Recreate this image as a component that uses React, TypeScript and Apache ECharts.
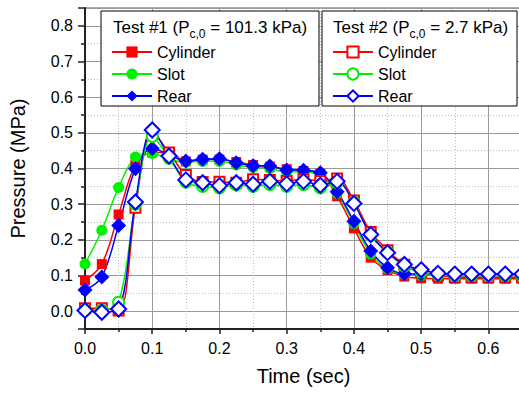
import React, { useEffect, useRef } from "react";
import * as echarts from "echarts";

const time = [0, 0.025, 0.05, 0.075, 0.1, 0.125, 0.15, 0.175, 0.2, 0.225, 0.25, 0.275, 0.3, 0.325, 0.35, 0.375, 0.4, 0.425, 0.45, 0.475, 0.5, 0.525, 0.55, 0.575, 0.6, 0.625, 0.65];

// Test #1 (Pc,0 = 101.3 kPa) — filled symbols
const cylinder1 = [0.086, 0.132, 0.271, 0.41, 0.445, 0.445, 0.42, 0.425, 0.425, 0.418, 0.41, 0.405, 0.398, 0.393, 0.385, 0.322, 0.232, 0.15, 0.115, 0.097, 0.092, 0.091, 0.091, 0.091, 0.091, 0.091, 0.091];
const slot1 = [0.132, 0.227, 0.347, 0.432, 0.442, 0.425, 0.418, 0.42, 0.42, 0.41, 0.403, 0.4, 0.39, 0.39, 0.38, 0.33, 0.245, 0.16, 0.118, 0.103, 0.1, 0.1, 0.1, 0.1, 0.1, 0.1, 0.1];
const rear1 = [0.059, 0.096, 0.24, 0.399, 0.456, 0.439, 0.421, 0.426, 0.427, 0.416, 0.408, 0.407, 0.396, 0.395, 0.388, 0.335, 0.252, 0.169, 0.122, 0.105, 0.104, 0.104, 0.104, 0.104, 0.104, 0.104, 0.104];

// Test #2 (Pc,0 = 2.7 kPa) — open symbols
const cylinder2 = [0.008, 0.008, 0.002, 0.29, 0.5, 0.445, 0.382, 0.362, 0.363, 0.36, 0.37, 0.368, 0.365, 0.37, 0.365, 0.372, 0.31, 0.222, 0.171, 0.13, 0.11, 0.1, 0.095, 0.095, 0.095, 0.095, 0.095];
const slot2 = [0.003, 0.003, 0.025, 0.3, 0.49, 0.43, 0.362, 0.35, 0.346, 0.354, 0.35, 0.355, 0.35, 0.355, 0.346, 0.36, 0.305, 0.212, 0.165, 0.126, 0.11, 0.102, 0.1, 0.1, 0.1, 0.1, 0.1];
const rear2 = [0.002, -0.003, 0.006, 0.306, 0.508, 0.435, 0.368, 0.36, 0.352, 0.36, 0.356, 0.364, 0.357, 0.364, 0.353, 0.364, 0.302, 0.215, 0.164, 0.131, 0.116, 0.106, 0.104, 0.104, 0.104, 0.104, 0.104];

const legendNames = ["Cylinder", "Slot", "Rear"];
const test2Suffix = " (Test #2)";
const colors = ["#ff0000", "#00f000", "#0000ff"];
const filledSymbols = ["rect", "circle", "diamond"];
const filledSizes = [10, 11, 15];
const openSymbols = ["emptyRect", "emptyCircle", "emptyDiamond"];
const openSizes = [10, 11, 15];

const FONT = "Liberation Sans, Arial, Helvetica, sans-serif";

const isTenth = (v: number) => Math.abs(Math.round(v * 10) - v * 10) < 1e-6;

export default function App() {
  const ref = useRef<HTMLDivElement>(null);

  useEffect(() => {
    if (!ref.current) return;
    const chart = echarts.init(ref.current, null, { renderer: "svg" });

    const t1 = [cylinder1, slot1, rear1];
    const t2 = [cylinder2, slot2, rear2];
    const series: any[] = [];
    t1.forEach((vals, i) => {
      series.push({
        name: legendNames[i],
        type: "line",
        data: time.map((t, k) => [t, vals[k]]),
        smooth: 0.35,
        symbol: filledSymbols[i],
        symbolSize: filledSizes[i],
        showAllSymbol: true,
        lineStyle: { color: colors[i], width: 1.5 },
        itemStyle: { color: colors[i], borderWidth: 0 },
        emphasis: { disabled: true },
        z: 2,
      });
    });
    t2.forEach((vals, i) => {
      series.push({
        name: legendNames[i] + test2Suffix,
        type: "line",
        data: time.map((t, k) => [t, vals[k]]),
        smooth: 0.35,
        symbol: openSymbols[i],
        symbolSize: openSizes[i],
        showAllSymbol: true,
        lineStyle: { color: colors[i], width: 1.5 },
        itemStyle: { color: colors[i], borderWidth: 1.3 },
        emphasis: { disabled: true },
        z: 3,
      });
    });

    const legendCommon = {
      orient: "vertical",
      top: 44,
      padding: 0,
      itemWidth: 40,
      itemHeight: 14,
      itemGap: 6,
      selectedMode: false,
      textStyle: { fontFamily: FONT, fontSize: 16, color: "#000", lineHeight: 16, padding: [0, 0, 0, 0] },
      z: 6,
    };

    const titleRich = {
      a: { fontFamily: FONT, fontSize: 17, color: "#000", lineHeight: 26, verticalAlign: "middle" },
      sub: { fontFamily: FONT, fontSize: 12, color: "#000", lineHeight: 10, verticalAlign: "bottom" },
    };

    chart.setOption({
      animation: false,
      backgroundColor: "#fff",
      grid: {
        left: 85,
        top: 8,
        right: -3,
        bottom: 65,
        show: true,
        borderColor: "#555",
        borderWidth: 1,
        backgroundColor: "transparent",
        outerBoundsMode: "none",
      },
      xAxis: {
        type: "value",
        min: 0,
        max: 0.65,
        interval: 0.1,
        name: "Time (sec)",
        nameLocation: "middle",
        nameGap: 37,
        nameTextStyle: { fontFamily: FONT, fontSize: 20, color: "#000" },
        axisLine: { show: true, onZero: false, lineStyle: { color: "#222", width: 2 } },
        axisTick: { show: true, inside: false, length: 5, lineStyle: { color: "#222", width: 1.5 } },
        minorTick: { show: true, splitNumber: 2, length: 3, lineStyle: { color: "#222", width: 1.5 } },
        axisLabel: {
          margin: 11,
          fontFamily: FONT,
          fontSize: 16,
          color: "#000",
          formatter: (v: number) => (isTenth(v) ? v.toFixed(1) : ""),
        },
        splitLine: { show: true, lineStyle: { color: "#999", width: 1 } },
        minorSplitLine: { show: true, lineStyle: { color: "#bbb", width: 1, type: [1, 2] } },
      },
      yAxis: {
        type: "value",
        min: -0.05,
        max: 0.85,
        splitNumber: 9,
        minInterval: 0.1,
        maxInterval: 0.1,
        name: "Pressure (MPa)",
        nameLocation: "middle",
        nameGap: 57,
        nameTextStyle: { fontFamily: FONT, fontSize: 20, color: "#000" },
        axisLine: { show: true, onZero: false, lineStyle: { color: "#222", width: 2 } },
        axisTick: { show: true, inside: false, length: 7, lineStyle: { color: "#222", width: 1.5 } },
        minorTick: { show: true, splitNumber: 2, length: 4, lineStyle: { color: "#222", width: 1.5 } },
        axisLabel: {
          margin: 12,
          fontFamily: FONT,
          fontSize: 16,
          color: "#000",
          formatter: (v: number) => (isTenth(v) && v > -0.01 && v < 0.81 ? v.toFixed(1) : ""),
        },
        splitLine: { show: true, lineStyle: { color: "#999", width: 1 } },
        minorSplitLine: { show: true, lineStyle: { color: "#bbb", width: 1, type: [1, 2] } },
      },
      legend: [
        { ...legendCommon, left: 111, data: legendNames },
        {
          ...legendCommon,
          left: 332,
          data: legendNames.map((n) => n + test2Suffix),
          formatter: (name: string) => name.replace(test2Suffix, ""),
        },
      ],
      graphic: [
        {
          type: "rect",
          shape: { x: 101, y: 11, width: 218, height: 95 },
          style: { fill: "#fff", stroke: "#000", lineWidth: 1 },
          z: 5,
        },
        {
          type: "rect",
          shape: { x: 322, y: 11, width: 195, height: 95 },
          style: { fill: "#fff", stroke: "#000", lineWidth: 1 },
          z: 5,
        },
        {
          type: "text",
          x: 113,
          y: 27,
          z: 7,
          style: {
            text: "{a|Test #1 (P}{sub|c,0}{a| = 101.3 kPa)}",
            rich: titleRich,
            verticalAlign: "middle",
            align: "left",
          },
        },
        {
          type: "text",
          x: 333,
          y: 27,
          z: 7,
          style: {
            text: "{a|Test #2 (P}{sub|c,0}{a| = 2.7 kPa)}",
            rich: titleRich,
            verticalAlign: "middle",
            align: "left",
          },
        },
      ],
      series,
    });

    return () => chart.dispose();
  }, []);

  return (
    <div
      ref={ref}
      style={{ position: "absolute", left: 0, top: 0, width: 519, height: 394, overflow: "hidden" }}
    />
  );
}
